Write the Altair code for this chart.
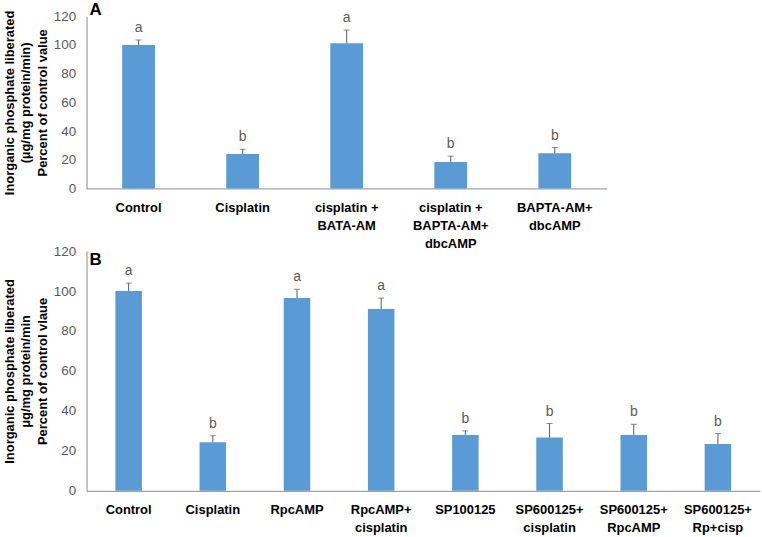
import altair as alt
import pandas as pd

# Panel A: calcium chelation / cAMP treatments
cats_a = ["Control", "Cisplatin", "cisplatin +\nBATA-AM",
          "cisplatin +\nBAPTA-AM+\ndbcAMP", "BAPTA-AM+\ndbcAMP"]
means_a = [100, 24, 101.2, 18.5, 24.5]
errs_a = [3.5, 3.3, 9.2, 4.0, 4.0]
letters_a = ["a", "b", "a", "b", "b"]
ytitle_a = ["Inorganic phosphate  liberated", "(µg/mg protein/min)",
            "Percent of control value"]

# Panel B: PKA / JNK inhibitor treatments
cats_b = ["Control", "Cisplatin", "RpcAMP", "RpcAMP+\ncisplatin", "SP100125",
          "SP600125+\ncisplatin", "SP600125+\nRpcAMP", "SP600125+\nRp+cisp"]
means_b = [100, 24.3, 96.5, 91, 28, 26.7, 28, 23.5]
errs_b = [4.0, 3.3, 4.4, 5.5, 2.0, 7.0, 5.3, 5.2]
letters_b = ["a", "b", "a", "a", "b", "b", "b", "b"]
ytitle_b = ["Inorganic phosphate  liberated", "μg/mg protein/min",
            "Percent of control vlaue"]

y_ticks = [0, 20, 40, 60, 80, 100, 120]

BAR = "#5B9BD5"
GREY = "#595959"
AXIS = "#8c8c8c"
FONT = "Liberation Sans"


def panel(cats, means, errs, letters, ytitle, tag, width, height, tag_dy):
    df = pd.DataFrame({
        "cat": cats,
        "mean": means,
        "top": [m + e for m, e in zip(means, errs)],
        "letter": letters,
    })
    x = alt.X(
        "cat:N", sort=cats,
        scale=alt.Scale(paddingInner=0, paddingOuter=0),
        axis=alt.Axis(
            title=None, labelAngle=0, ticks=False, domainColor=AXIS,
            labelExpr="split(datum.label, '\\n')",
            labelFont=FONT, labelFontWeight="bold", labelFontSize=13,
            labelColor="black", labelLineHeight=18, labelPadding=13,
            labelLimit=0, labelOverlap=False,
        ),
    )
    y_scale = alt.Scale(domain=[0, 120], nice=False)
    y_axis = alt.Axis(
        values=y_ticks, tickCount=len(y_ticks), grid=False, ticks=False,
        domainColor=AXIS, labelColor=GREY, labelFont=FONT,
        labelFontSize=13.5, labelPadding=11, labelOverlap=False,
        title=ytitle, titleFont=FONT, titleFontWeight="bold",
        titleFontSize=13, titleColor="black", titleLineHeight=16.5,
        titlePadding=4,
    )

    def yenc(field):
        return alt.Y(field, scale=y_scale, axis=y_axis)

    base = alt.Chart(df).encode(x=x)
    bars = base.mark_bar(color=BAR, width=alt.RelativeBandSize(0.315)).encode(
        y=yenc("mean:Q"))
    rules = base.mark_rule(color=GREY, strokeWidth=1).encode(
        y=yenc("mean:Q"), y2="top:Q")
    caps = base.mark_tick(orient="horizontal", size=6, thickness=1,
                          color=GREY).encode(y=yenc("top:Q"))
    marks = base.mark_text(dy=-8, baseline="alphabetic", fontSize=14,
                           font=FONT, color=GREY).encode(
        y=yenc("top:Q"), text="letter:N")
    return alt.layer(bars, rules, caps, marks).properties(
        width=width, height=height,
        title=alt.TitleParams(tag, anchor="start", frame="group", fontSize=17,
                              fontWeight="bold", font=FONT, color="black",
                              dx=3, dy=tag_dy, offset=0),
    )


top = panel(cats_a, means_a, errs_a, letters_a, ytitle_a, "A", 523, 173, 11)
bottom = panel(cats_b, means_b, errs_b, letters_b, ytitle_b, "B", 677, 241, 25)

chart = alt.vconcat(top, bottom, spacing=63, bounds="flush").properties(
    padding={"left": 3, "top": -1, "right": 2, "bottom": 2},
).configure_view(stroke=None)

chart.save("out.html", embed_options={"renderer": "svg", "actions": False})
